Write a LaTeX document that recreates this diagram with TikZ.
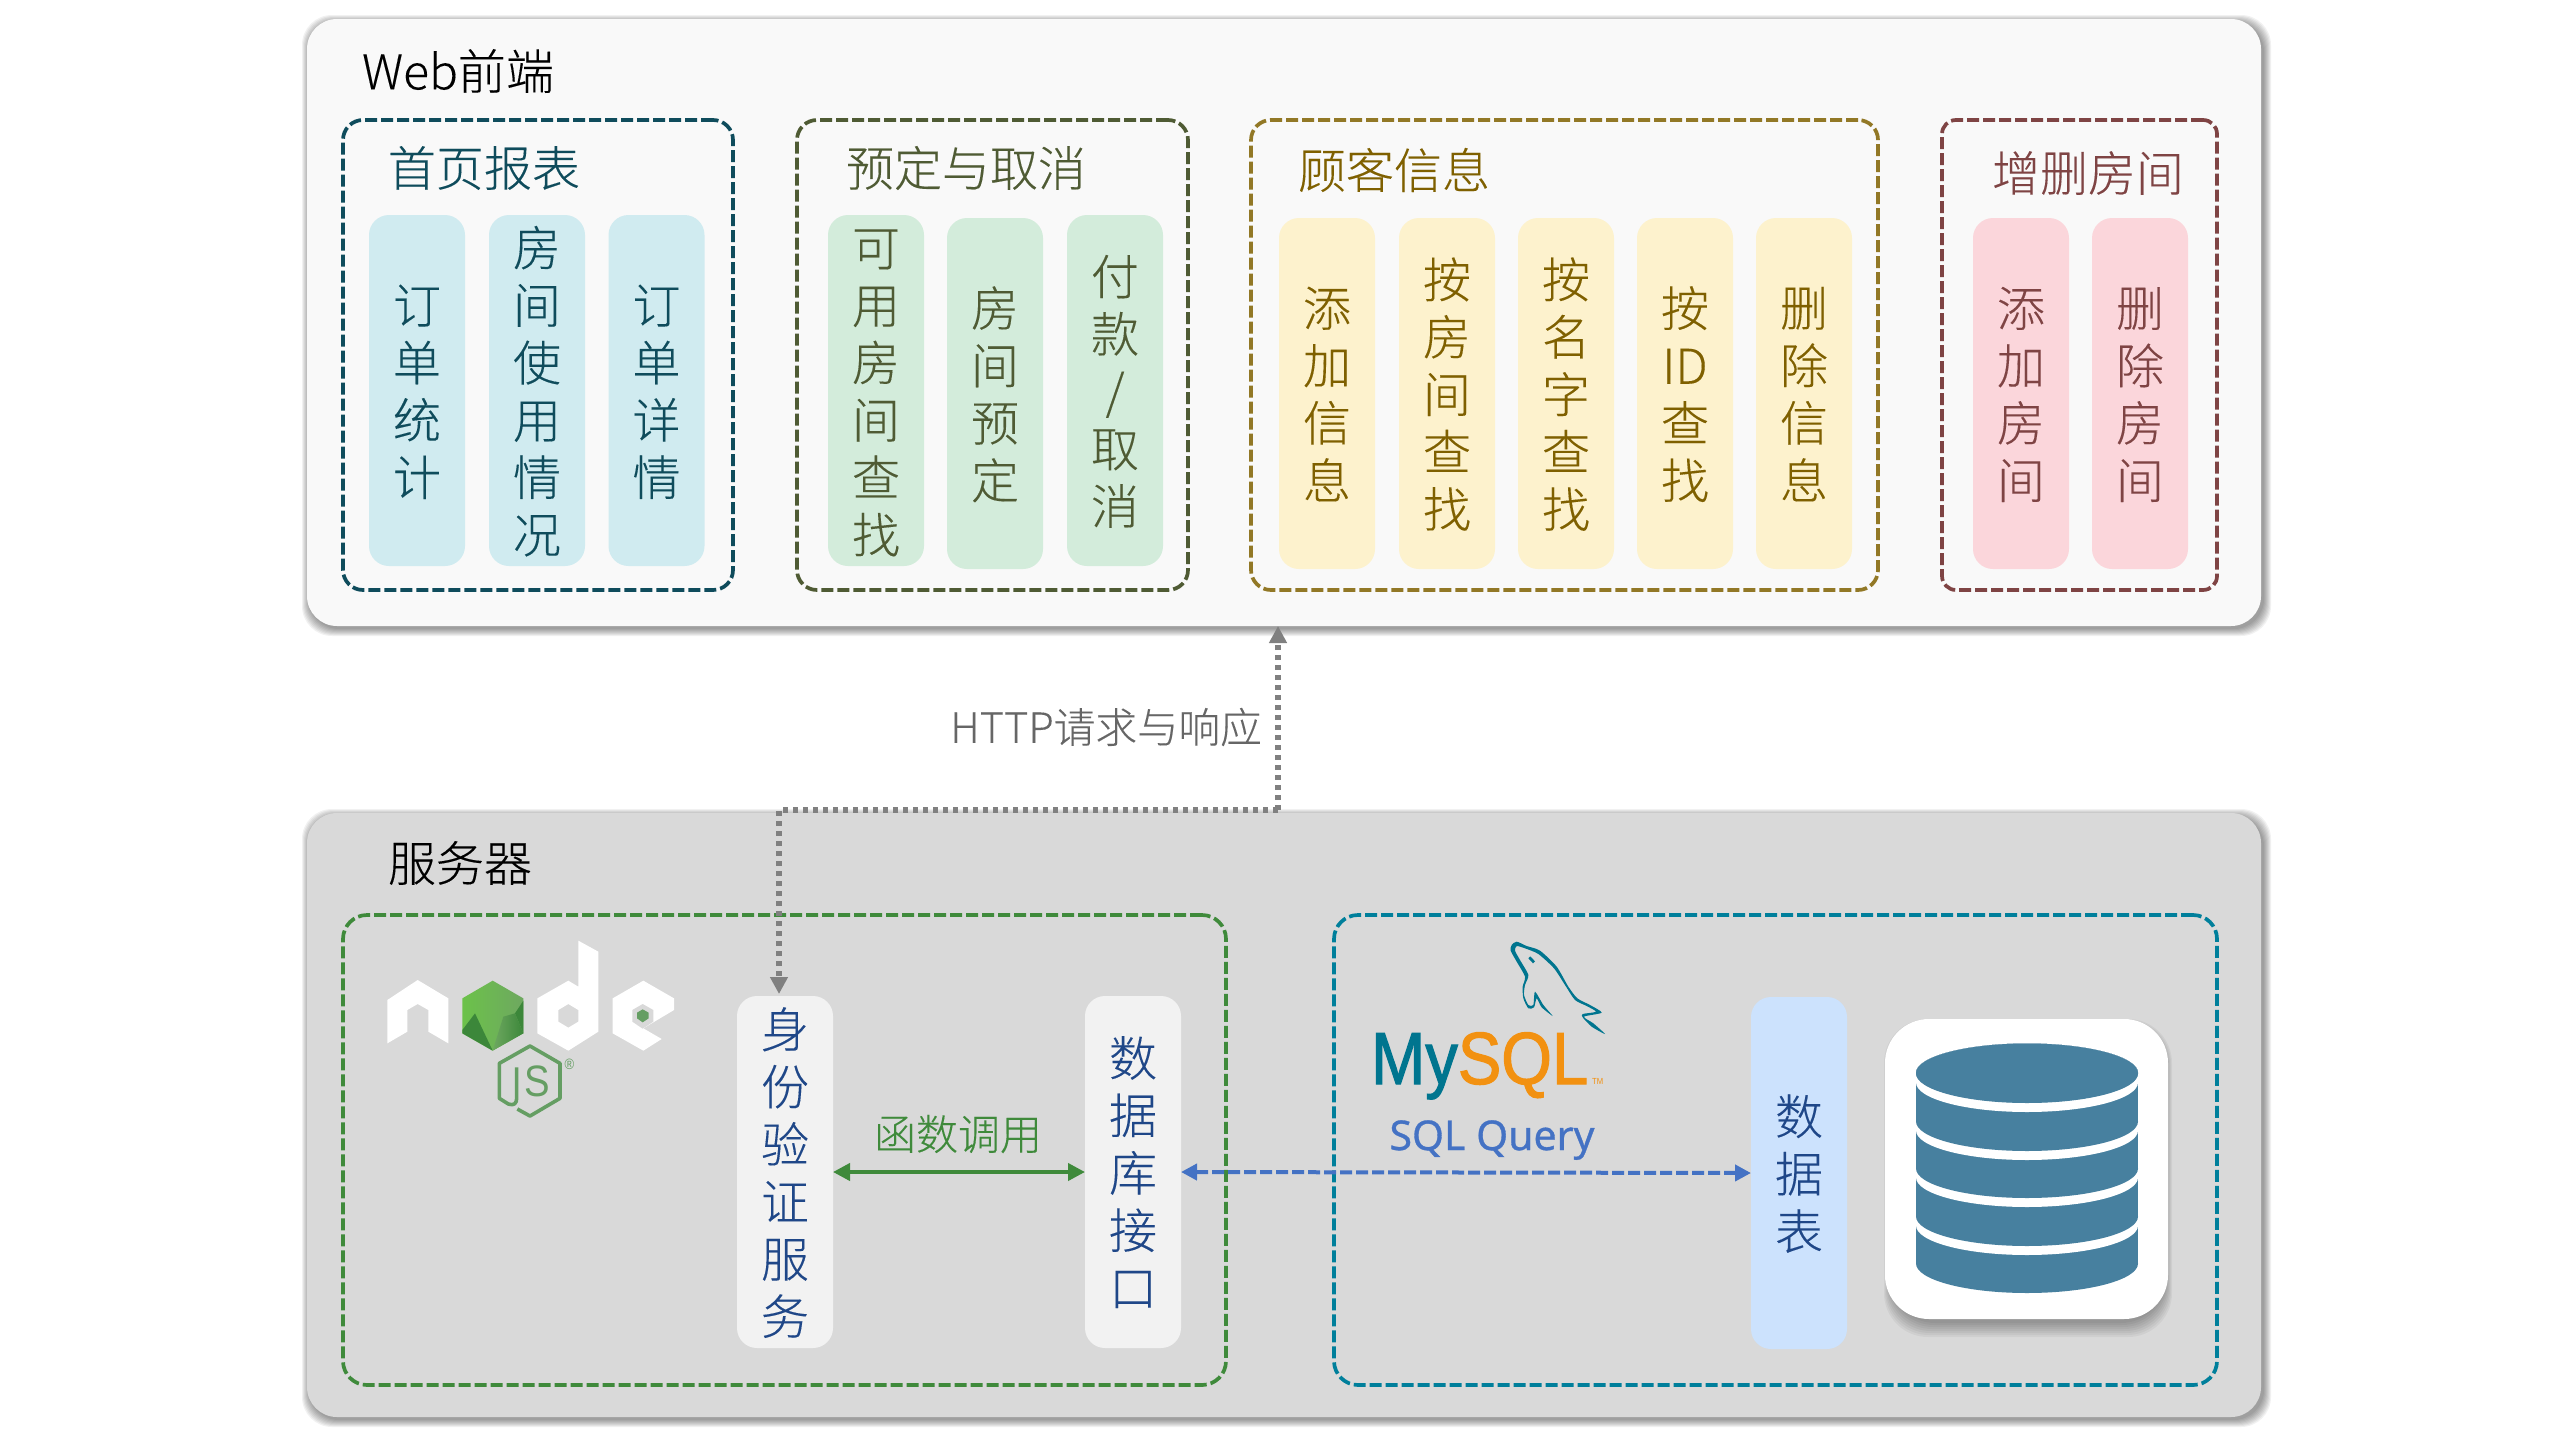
\documentclass[tikz,border=0pt]{standalone}
\usepackage{fontspec}
\setmainfont{Noto Sans CJK SC}[UprightFont=* Light,UprightFeatures={FakeBold=0.2}]
\newfontfamily\logofont{Liberation Sans}[FakeStretch=0.88,FakeBold=1.5]
\newfontfamily\jsfont{Liberation Sans}[FakeStretch=0.87]
\newfontfamily\sqlfont{Noto Sans}[FakeBold=0.8]
\usetikzlibrary{arrows.meta}
\definecolor{webbg}{HTML}{F9F9F9}
\definecolor{srvbg}{HTML}{D9D9D9}
\definecolor{cteal}{HTML}{0F4C5C}
\definecolor{colive}{HTML}{4F5B34}
\definecolor{cgold}{HTML}{7F6000}
\definecolor{cmaroon}{HTML}{7F4444}
\definecolor{cgreen}{HTML}{3F8A3B}
\definecolor{cblue}{HTML}{007F9B}
\definecolor{cnavy}{HTML}{1F4788}
\definecolor{cquery}{HTML}{4472C4}
\definecolor{cdb}{HTML}{47809F}
\definecolor{mysqlteal}{HTML}{00758F}
\definecolor{mysqlorange}{HTML}{F29111}
\definecolor{jsgreen}{HTML}{659E63}
\definecolor{pillblue}{HTML}{D0EBF0}
\definecolor{pillgreen}{HTML}{D3ECDB}
\definecolor{pillyellow}{HTML}{FDF2CD}
\definecolor{pillpink}{HTML}{FBD6DB}
\definecolor{pillpale}{HTML}{F2F2F2}
\definecolor{pilltable}{HTML}{CCE2FD}
\definecolor{hexbright}{HTML}{6CC24A}
\definecolor{hexmid}{HTML}{6EA860}
\definecolor{hexdark}{HTML}{3C873A}
\tikzset{
 rbox/.style={inner sep=0pt,outer sep=0pt,rounded corners=15pt},
 grp/.style={rbox,draw=#1,line width=1.85pt,dash pattern=on 6pt off 2pt,rounded corners=10pt},
 pill/.style={inner sep=0pt,outer sep=0pt,minimum width=48pt,minimum height=175.5pt,rounded corners=10pt,font=\fontsize{24}{28.7}\selectfont},
 ttl/.style={inner sep=0pt,font=\fontsize{24}{28.8}\selectfont},
 http/.style={draw=black!50,line width=2.8pt,dash pattern=on 2.5pt off 2.5pt},
 httptip/.style={-{Triangle[length=8.5pt,width=8.5pt]}},
}
\newcommand{\vstack}[1]{\raisebox{-9.95pt}[0pt][0pt]{\begin{tabular}{@{}c@{}}#1\end{tabular}}}
\newcommand{\softshadow}[5]{%
 \foreach \i in {1,...,8}{%
  \fill[black,opacity=.055,rounded corners=#5] ({#1+3-\i},{#2+4-\i}) rectangle ({#3+2+\i},{#4+2+\i});}}
\newcommand{\softshadowlow}[5]{%
 \foreach \i in {1,...,8}{%
  \fill[black,opacity=.045,rounded corners=#5] ({#1+7-\i},{#2+8-\i}) rectangle ({#3-4+\i},{#4+2+2*\i});}}
\newcommand{\rboxnode}[6]{%
 \node[#2,minimum width={(#5-#3)*0.5pt},minimum height={(#6-#4)*0.5pt}] (#1) at ({(#3+#5)/2},{(#4+#6)/2}) {};}
\newcommand{\dbdisc}[2]{%
 \fill[#1] (1916,1073) rectangle (2138,#2-29.5);
 \fill[#1] (2027,1073) ellipse [x radius=55.5pt,y radius=14.75pt];
 \fill[#1] (2027,#2-29.5) ellipse [x radius=55.5pt,y radius=14.75pt];}
\begin{document}
\begin{tikzpicture}[x=0.5pt,y=-0.5pt]
\useasboundingbox (0,0) rectangle (2560,1440);
\fill[white] (0,0) rectangle (2560,1440);
% outer panels
\softshadow{307}{19}{2261}{626}{15pt}
\rboxnode{web}{rbox,fill=webbg}{307}{19}{2261}{626}
\softshadow{307}{813}{2261}{1417}{15pt}
\rboxnode{srv}{rbox,fill=srvbg}{307}{813}{2261}{1417}
\node[ttl] (tweb) at (458,71) {Web前端};
\node[ttl] (tsrv) at (460,863) {服务器};
% web groups
\rboxnode{g1}{grp=cteal}{343}{120}{733}{590}
\rboxnode{g2}{grp=colive}{797}{120}{1188}{590}
\rboxnode{g3}{grp=cgold!85!white}{1251}{120}{1878}{590}
\rboxnode{g4}{grp=cmaroon,rounded corners=7pt}{1942}{120}{2217}{590}
\node[ttl,text=cteal] (t1) at (484,168) {首页报表};
\node[ttl,text=colive] (t2) at (966,168) {预定与取消};
\node[ttl,text=cgold] (t3) at (1394,170) {顾客信息};
\node[ttl,text=cmaroon] (t4) at (2088,173) {增删房间};
% pills
\node[pill,fill=pillblue,text=cteal] (a1) at (417,390.5) {\vstack{订\\单\\统\\计}};
\node[pill,fill=pillblue,text=cteal] (a2) at (537,390.5) {\vstack{房\\间\\使\\用\\情\\况}};
\node[pill,fill=pillblue,text=cteal] (a3) at (656.5,390.5) {\vstack{订\\单\\详\\情}};
\node[pill,fill=pillgreen,text=colive] (b1) at (876,390.5) {\vstack{可\\用\\房\\间\\查\\找}};
\node[pill,fill=pillgreen,text=colive] (b2) at (995,393.5) {\vstack{房\\间\\预\\定}};
\node[pill,fill=pillgreen,text=colive] (b3) at (1115,390.5) {\vstack{付\\款\\/\\取\\消}};
\node[pill,fill=pillyellow,text=cgold] (c1) at (1327,393.5) {\vstack{添\\加\\信\\息}};
\node[pill,fill=pillyellow,text=cgold] (c2) at (1447,393.5) {\vstack{按\\房\\间\\查\\找}};
\node[pill,fill=pillyellow,text=cgold] (c3) at (1566,393.5) {\vstack{按\\名\\字\\查\\找}};
\node[pill,fill=pillyellow,text=cgold] (c4) at (1685,393.5) {\vstack{按\\ID\\查\\找}};
\node[pill,fill=pillyellow,text=cgold] (c5) at (1804,393.5) {\vstack{删\\除\\信\\息}};
\node[pill,fill=pillpink,text=cmaroon] (d1) at (2021,393.5) {\vstack{添\\加\\房\\间}};
\node[pill,fill=pillpink,text=cmaroon] (d2) at (2140,393.5) {\vstack{删\\除\\房\\间}};
% server groups
\rboxnode{g5}{grp=cgreen,rounded corners=12pt}{343}{915}{1226}{1385}
\rboxnode{g6}{grp=cblue,rounded corners=12pt}{1334}{915}{2217}{1385}
\node[pill,minimum height=176pt,fill=pillpale,text=cnavy] (auth) at (785,1172) {\vstack{身\\份\\验\\证\\服\\务}};
\node[pill,minimum height=176pt,fill=pillpale,text=cnavy] (dbapi) at (1133,1172) {\vstack{数\\据\\库\\接\\口}};
\node[pill,minimum height=176pt,fill=pilltable,text=cnavy] (tbl) at (1799,1173) {\vstack{数\\据\\表}};
% database icon
\softshadowlow{1885}{1019}{2168}{1319}{22pt}
\rboxnode{dbicon}{rbox,fill=white,rounded corners=22pt}{1885}{1019}{2168}{1319}
\dbdisc{cdb}{1293}
\dbdisc{white}{1255}
\dbdisc{cdb}{1246}
\dbdisc{white}{1207}
\dbdisc{cdb}{1198}
\dbdisc{white}{1160}
\dbdisc{cdb}{1151}
\dbdisc{white}{1112}
\dbdisc{cdb}{1103}
% connectors
\coordinate (httpUp) at (1278,626);
\coordinate (httpBend) at (1278,810);
\coordinate (authIn) at (779,994);
\draw[http,httptip] (httpBend) -- (httpUp);
\draw[http,httptip] (httpBend) -- (httpBend -| authIn) -- (authIn);
\draw[cgreen,line width=2pt,{Triangle[length=8.5pt,width=8.5pt]}-{Triangle[length=8.5pt,width=8.5pt]}] (auth.east) -- (dbapi.west);
\draw[cquery,line width=2pt,dash pattern=on 6pt off 2pt,{Triangle[length=8pt,width=8pt]}-{Triangle[length=8pt,width=8pt]}] (dbapi.east) -- (tbl.west);
\node[inner sep=0pt,text=black!60,font=\fontsize{20.8}{24}\selectfont] (lhttp) at (1106,727) {HTTP请求与响应};
\node[inner sep=0pt,text=cgreen,font=\fontsize{21}{24}\selectfont] (lfn) at (958,1134) {函数调用};
\node[inner sep=0pt,anchor=base,text=cquery,font=\sqlfont\fontsize{20.5}{24}\selectfont] (lsql) at (1492,1150) {SQL Query};
% node.js logo
\begin{scope}[shift={(360,930)},x=0.16667pt,y=-0.16667pt]
\fill[white] (82,210)--(173,150)--(265,205)--(265,340)--(205,305)--(205,240)--(173,222)--(142,240)--(142,305)--(82,340)--cycle;
\fill[white,even odd rule] (655,32)--(715,65)--(715,305)--(625,362)--(532,310)--(532,205)--(625,152)--(655,170)--cycle
 (625,222)--(655,240)--(655,275)--(625,293)--(595,275)--(595,240)--cycle;
\fill[white] (850,152)--(942,205)--(942,240)--(850,295)--(905,327)--(850,362)--(758,310)--(758,205)--cycle;
\fill[srvbg] (848,222)--(880,240)--(880,275)--(848,296)--(817,275)--(817,240)--cycle;
\fill[jsgreen] (848,238)--(866,248)--(866,265)--(848,277)--(831,265)--(831,248)--cycle;
\shade[left color=hexbright,right color=hexmid] (398,152)--(490,205)--(490,310)--(398,362)--(307,310)--(307,205)--cycle;
\fill[hexdark] (307,310)--(398,362)--(345,250)--(307,300)--cycle;
\fill[hexdark] (490,212)--(490,310)--(465,250)--cycle;
\shade[left color=hexmid,right color=hexdark] (465,250)--(490,310)--(398,362)--(430,260)--cycle;
\draw[jsgreen,line width=1.8pt,line join=round] (472,537)--(510,558)--(600,505)--(600,400)--(510,348)--(418,400)--(418,505)--(445,522) .. controls (462,528) and (470,520) .. (470,505)--(470,412);
\node[inner sep=0pt,text=jsgreen,font=\jsfont\fontsize{22}{24}\selectfont] (logojs) at (532,455) {S};
\node[inner sep=0pt,text=jsgreen,font=\jsfont\fontsize{7.5}{8}\selectfont] (logor) at (628,403) {®};
\end{scope}
% mysql logo
\begin{scope}[shift={(1360,930)},x=0.16667pt,y=-0.16667pt]
\fill[mysqlteal] plot[smooth cycle,tension=.4] coordinates {(455,45)(470,35)(500,48)(540,62)(590,110)(625,170)(652,205)(690,225)(725,248)(672,260)(700,280)(735,312)(695,290)(668,262)(668,252)(708,245)(680,228)(645,210)(615,165)(582,115)(535,72)(495,55)(470,48)(465,62)(480,90)(505,135)(495,165)(492,195)(505,225)(520,225)(525,185)(550,225)(578,258)(545,232)(530,205)(522,232)(505,235)(490,205)(488,170)(495,140)(470,95)(452,62)};
\draw[mysqlteal,line width=1.4pt] (508,82)--(522,97);
\node[inner sep=0pt,anchor=base west,font=\logofont\fontsize{37}{40}\selectfont] (logomy) at (32,462) {\textcolor{mysqlteal}{My}\textcolor{mysqlorange}{SQL}};
\node[inner sep=0pt,anchor=base west,text=mysqlorange,font=\jsfont\fontsize{4.4}{5}\selectfont] (logotm) at (695,462) {TM};
\end{scope}
\end{tikzpicture}
\end{document}
